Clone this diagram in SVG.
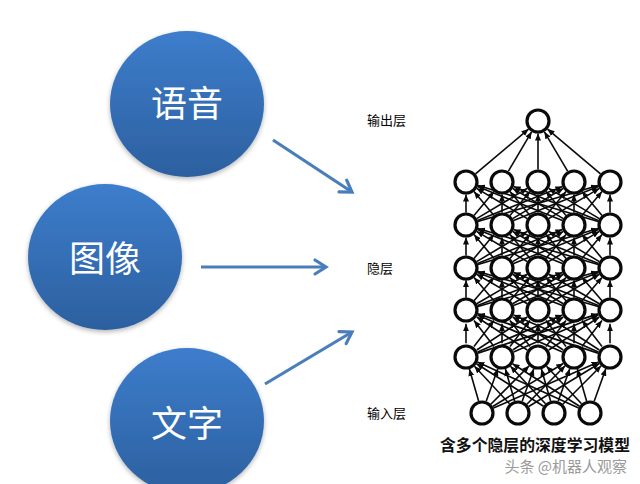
<svg xmlns="http://www.w3.org/2000/svg" xmlns:xlink="http://www.w3.org/1999/xlink" width="640" height="484" viewBox="0 0 640 484">
<style>
.cjk{font-family:"Noto Sans CJK SC","Noto Sans",sans-serif}
.big{font-size:36px;fill:#ffffff;text-anchor:middle}
.lbl{font-size:13px;fill:#000000}
.blue{fill:url(#blueGrad);filter:url(#shadow)}
.flow{stroke:#4a7ebb;stroke-width:3.2;fill:none;marker-end:url(#openArrow)}
.neuron{fill:#ffffff;stroke:#0a0a0a;stroke-width:3.2}
.edge{stroke:#0a0a0a;stroke-width:1.6;marker-end:url(#tip)}
</style>
<defs>
<linearGradient id="blueGrad" x1="0" y1="0" x2="0" y2="1">
<stop offset="0" stop-color="#3d7dcc"/>
<stop offset="1" stop-color="#2c609f"/>
</linearGradient>
<filter id="shadow" x="-20%" y="-20%" width="140%" height="140%">
<feGaussianBlur in="SourceAlpha" stdDeviation="2.5"/>
<feOffset dx="0" dy="2" result="b"/>
<feComponentTransfer><feFuncA type="linear" slope="0.3"/></feComponentTransfer>
<feMerge><feMergeNode/><feMergeNode in="SourceGraphic"/></feMerge>
</filter>
<marker id="openArrow" markerUnits="userSpaceOnUse" markerWidth="16" markerHeight="16" refX="12" refY="7" orient="auto" overflow="visible">
<path d="M1,0 L12,7 L1,14" fill="none" stroke="#4a7ebb" stroke-width="3.2" stroke-linecap="round" stroke-linejoin="miter"/>
</marker>
<marker id="tip" markerUnits="userSpaceOnUse" markerWidth="8" markerHeight="6" refX="7" refY="3" orient="auto">
<path d="M0,0 L7,3 L0,6 z" fill="#0a0a0a"/>
</marker>
<g id="layerEdges">
<line class="edge" x1="466" y1="30.5" x2="466" y2="12.5"/>
<line class="edge" x1="474" y1="33.4" x2="494" y2="9.6"/>
<line class="edge" x1="476.7" y1="36.6" x2="527.3" y2="6.4"/>
<line class="edge" x1="477.6" y1="38.4" x2="562.4" y2="4.6"/>
<line class="edge" x1="478" y1="39.4" x2="598" y2="3.6"/>
<line class="edge" x1="494" y1="33.4" x2="474" y2="9.6"/>
<line class="edge" x1="502" y1="30.5" x2="502" y2="12.5"/>
<line class="edge" x1="510" y1="33.4" x2="530" y2="9.6"/>
<line class="edge" x1="512.7" y1="36.6" x2="563.3" y2="6.4"/>
<line class="edge" x1="513.6" y1="38.4" x2="598.4" y2="4.6"/>
<line class="edge" x1="527.3" y1="36.6" x2="476.7" y2="6.4"/>
<line class="edge" x1="530" y1="33.4" x2="510" y2="9.6"/>
<line class="edge" x1="538" y1="30.5" x2="538" y2="12.5"/>
<line class="edge" x1="546" y1="33.4" x2="566" y2="9.6"/>
<line class="edge" x1="548.7" y1="36.6" x2="599.3" y2="6.4"/>
<line class="edge" x1="562.4" y1="38.4" x2="477.6" y2="4.6"/>
<line class="edge" x1="563.3" y1="36.6" x2="512.7" y2="6.4"/>
<line class="edge" x1="566" y1="33.4" x2="546" y2="9.6"/>
<line class="edge" x1="574" y1="30.5" x2="574" y2="12.5"/>
<line class="edge" x1="582" y1="33.4" x2="602" y2="9.6"/>
<line class="edge" x1="598" y1="39.4" x2="478" y2="3.6"/>
<line class="edge" x1="598.4" y1="38.4" x2="513.6" y2="4.6"/>
<line class="edge" x1="599.3" y1="36.6" x2="548.7" y2="6.4"/>
<line class="edge" x1="602" y1="33.4" x2="582" y2="9.6"/>
<line class="edge" x1="610" y1="30.5" x2="610" y2="12.5"/>
</g>
<g id="hiddenRow">
<circle class="neuron" cx="466" cy="0" r="11"/>
<circle class="neuron" cx="502" cy="0" r="11"/>
<circle class="neuron" cx="538" cy="0" r="11"/>
<circle class="neuron" cx="574" cy="0" r="11"/>
<circle class="neuron" cx="610" cy="0" r="11"/>
</g>
</defs>
<rect width="640" height="484" fill="#ffffff"/>

<g id="connectors">
<line class="flow" x1="273" y1="140" x2="352" y2="192"/>
<line class="flow" x1="201" y1="267" x2="326" y2="267"/>
<line class="flow" x1="265" y1="384" x2="352" y2="332"/>
<g id="network-edges">
<line class="edge" x1="475.5" y1="173.9" x2="528.5" y2="129.1"/>
<line class="edge" x1="508.4" y1="171.2" x2="531.6" y2="131.8"/>
<line class="edge" x1="538" y1="169.5" x2="538" y2="133.5"/>
<line class="edge" x1="567.6" y1="171.2" x2="544.4" y2="131.8"/>
<line class="edge" x1="600.5" y1="173.9" x2="547.5" y2="129.1"/>
<use xlink:href="#layerEdges" href="#layerEdges" transform="translate(0,182)"/>
<use xlink:href="#layerEdges" href="#layerEdges" transform="translate(0,225)"/>
<use xlink:href="#layerEdges" href="#layerEdges" transform="translate(0,268) scale(1,0.977)"/>
<use xlink:href="#layerEdges" href="#layerEdges" transform="translate(0,310) scale(1,1.093)"/>
<line class="edge" x1="478.6" y1="401" x2="469.4" y2="369"/>
<line class="edge" x1="486.2" y1="401.2" x2="497.8" y2="368.8"/>
<line class="edge" x1="490.8" y1="404.2" x2="529.2" y2="365.8"/>
<line class="edge" x1="492.7" y1="406.5" x2="563.3" y2="363.5"/>
<line class="edge" x1="493.5" y1="408" x2="598.5" y2="362"/>
<line class="edge" x1="509.5" y1="403.8" x2="474.5" y2="366.2"/>
<line class="edge" x1="514.6" y1="401" x2="505.4" y2="369"/>
<line class="edge" x1="522.2" y1="401.2" x2="533.8" y2="368.8"/>
<line class="edge" x1="526.8" y1="404.2" x2="565.2" y2="365.8"/>
<line class="edge" x1="528.7" y1="406.5" x2="599.3" y2="363.5"/>
<line class="edge" x1="543.5" y1="406.3" x2="476.5" y2="363.7"/>
<line class="edge" x1="545.5" y1="403.8" x2="510.5" y2="366.2"/>
<line class="edge" x1="550.6" y1="401" x2="541.4" y2="369"/>
<line class="edge" x1="558.2" y1="401.2" x2="569.8" y2="368.8"/>
<line class="edge" x1="562.8" y1="404.2" x2="601.2" y2="365.8"/>
<line class="edge" x1="578.6" y1="407.9" x2="477.4" y2="362.1"/>
<line class="edge" x1="579.5" y1="406.3" x2="512.5" y2="363.7"/>
<line class="edge" x1="581.5" y1="403.8" x2="546.5" y2="366.2"/>
<line class="edge" x1="586.6" y1="401" x2="577.4" y2="369"/>
<line class="edge" x1="594.2" y1="401.2" x2="605.8" y2="368.8"/>
</g>
</g>

<g id="node-speech">
<ellipse class="blue" cx="187" cy="104" rx="77" ry="73"/>
<text class="cjk big" x="187" y="117">语音</text>
</g>
<g id="node-image">
<ellipse class="blue" cx="105" cy="257" rx="77" ry="73"/>
<text class="cjk big" x="105" y="272">图像</text>
</g>
<g id="node-text">
<ellipse class="blue" cx="187" cy="421" rx="77" ry="73"/>
<text class="cjk big" x="187" y="437">文字</text>
</g>

<g id="label-output"><text class="cjk lbl" x="367" y="125">输出层</text></g>
<g id="label-hidden"><text class="cjk lbl" x="367" y="273">隐层</text></g>
<g id="label-input"><text class="cjk lbl" x="367" y="418">输入层</text></g>

<g id="output-layer">
<circle class="neuron" cx="538" cy="121" r="11"/>
</g>
<g id="hidden-layers">
<use xlink:href="#hiddenRow" href="#hiddenRow" transform="translate(0,182)"/>
<use xlink:href="#hiddenRow" href="#hiddenRow" transform="translate(0,225)"/>
<use xlink:href="#hiddenRow" href="#hiddenRow" transform="translate(0,268)"/>
<use xlink:href="#hiddenRow" href="#hiddenRow" transform="translate(0,310)"/>
<use xlink:href="#hiddenRow" href="#hiddenRow" transform="translate(0,357)"/>
</g>
<g id="input-layer">
<circle class="neuron" cx="482" cy="413" r="11"/>
<circle class="neuron" cx="518" cy="413" r="11"/>
<circle class="neuron" cx="554" cy="413" r="11"/>
<circle class="neuron" cx="590" cy="413" r="11"/>
</g>

<g id="caption">
<text class="cjk" x="440" y="451" font-size="16" font-weight="bold" fill="#111111" textLength="190" lengthAdjust="spacingAndGlyphs">含多个隐层的深度学习模型</text>
<text class="cjk" x="627" y="472" font-size="15" fill="#9a9a9a" text-anchor="end">头条 @机器人观察</text>
</g>
</svg>
